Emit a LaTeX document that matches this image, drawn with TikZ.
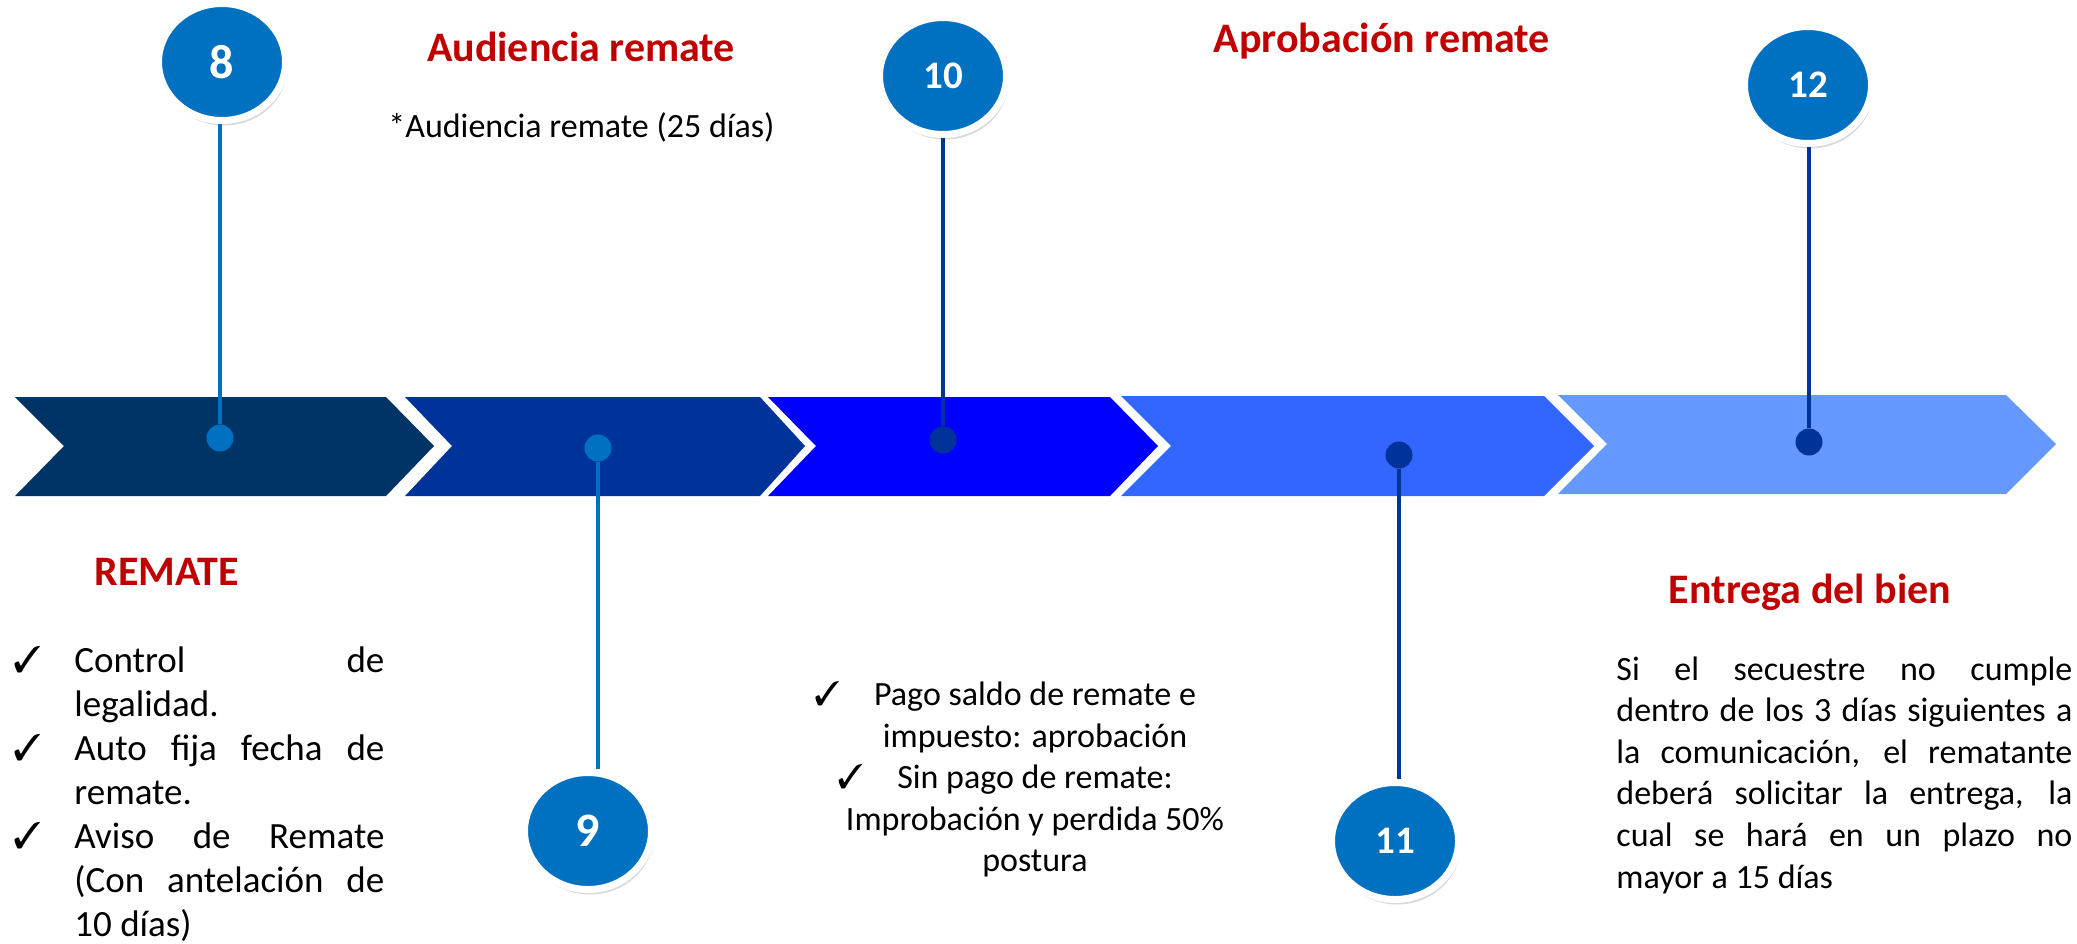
\documentclass[tikz,border=0pt]{standalone}
\usepackage{fontspec}
\setmainfont{Carlito}
\usepackage{pifont}
\usetikzlibrary{shapes.geometric,shadows}
\setlength{\parindent}{0pt}
\setlength{\parskip}{0pt}

\definecolor{navyA}{RGB}{0,51,102}
\definecolor{navyB}{RGB}{0,51,153}
\definecolor{blueC}{RGB}{0,0,255}
\definecolor{blueD}{RGB}{51,102,255}
\definecolor{blueE}{RGB}{102,153,255}
\definecolor{stepblue}{RGB}{0,112,192}
\definecolor{titlered}{RGB}{192,0,0}

\begin{document}
\begin{tikzpicture}[x=0.5pt,y=-0.5pt,
stepnum/.style={ellipse,fill=stepblue,draw=white,line width=3.5pt,minimum width=63.5pt,minimum height=58.5pt,inner sep=0pt,text=white,font=\bfseries\fontsize{19.5}{20}\selectfont,drop shadow={opacity=0.3,shadow xshift=1pt,shadow yshift=-2.5pt}},
bignum/.style={stepnum,font=\bfseries\fontsize{24}{24}\selectfont},
dotlight/.style={circle,fill=stepblue,inner sep=0pt,minimum size=13.5pt},
dotdark/.style={dotlight,fill=navyB},
stemlight/.style={draw=stepblue,line width=2.4pt},
stemdark/.style={draw=navyB,line width=2.4pt},
title/.style={text=titlered,font=\bfseries\fontsize{21}{25}\selectfont,inner sep=0pt},
body/.style={font=\fontsize{17}{20.8}\selectfont,inner sep=0pt}]
\useasboundingbox (0,0) rectangle (2077,943);

\fill[navyA] (15,397) -- (386,397) -- (434,446) -- (386,496) -- (15,496) -- (64,446) -- cycle;
\fill[navyB] (405,397) -- (760,397) -- (805,446) -- (760,496) -- (405,496) -- (452,446) -- cycle;
\fill[blueC] (768,397) -- (1110,397) -- (1158,446) -- (1110,496) -- (768,496) -- (816,446) -- cycle;
\fill[blueD] (1121,396) -- (1544,396) -- (1594,446) -- (1544,496) -- (1121,496) -- (1171,446) -- cycle;
\fill[blueE] (1558,395) -- (2006,395) -- (2056,444) -- (2006,494) -- (1558,494) -- (1607,444) -- cycle;

\node[bignum] (c8) at (222,62) {8};
\node[bignum] (c9) at (588,831) {9};
\node[stepnum] (c10) at (943,76) {10};
\node[stepnum] (c11) at (1395,841) {11};
\node[stepnum] (c12) at (1808,85) {12};

\node[dotlight] (d8) at (220,438) {};
\node[dotlight] (d9) at (598,448) {};
\node[dotdark] (d10) at (943,440) {};
\node[dotdark] (d11) at (1399,455) {};
\node[dotdark] (d12) at (1809,442) {};

\draw[stemlight] (d8.north) -- (d8.north |- c8.south);
\draw[stemlight] (d9.south) -- (d9.south |- c9.north);
\draw[stemdark] (d10.north) -- (d10.north |- c10.south);
\draw[stemdark] (d11.south) -- (d11.south |- c11.north);
\draw[stemdark] (d12.north) -- (d12.north |- c12.south);

\node[title,anchor=base] (audtitle) at (581,61) {Audiencia remate};
\node[body,anchor=base west] (audnote) at (388,137) {*Audiencia remate (25 días)};
\node[title,anchor=base] (aprtitle) at (1382,52) {Aprobación remate};
\node[title,anchor=base] (remtitle) at (167,585) {REMATE};
\node[title,anchor=base] (enttitle) at (1810,603) {Entrega del bien};

\node[body,font=\fontsize{18.5}{22}\selectfont,text width=155pt,align=justify,anchor=base west] (remlist) at (74,672)
{\leavevmode\llap{\ding{51}\hspace{16.5pt}}Control de\linebreak legalidad.\par
\leavevmode\llap{\ding{51}\hspace{16.5pt}}Auto fija fecha de\linebreak remate.\par
\leavevmode\llap{\ding{51}\hspace{16.5pt}}Aviso de Remate\linebreak (Con antelación de\linebreak 10 días)};

\node[body,align=center,anchor=north] (paylist) at (1035,681)
{\llap{\ding{51}\hspace{17pt}}Pago saldo de remate e\\ impuesto: aprobación\\ \llap{\ding{51}\hspace{17pt}}Sin pago de remate:\\ Improbación y perdida 50\%\\ postura};

\node[body,text width=228pt,align=justify,anchor=base west] (handtext) at (1616,680)
{Si el secuestre no cumple\linebreak dentro de los 3 días siguientes a\linebreak la comunicación, el rematante\linebreak deberá solicitar la entrega, la\linebreak cual se hará en un plazo no\linebreak mayor a 15 días};
\end{tikzpicture}
\end{document}
